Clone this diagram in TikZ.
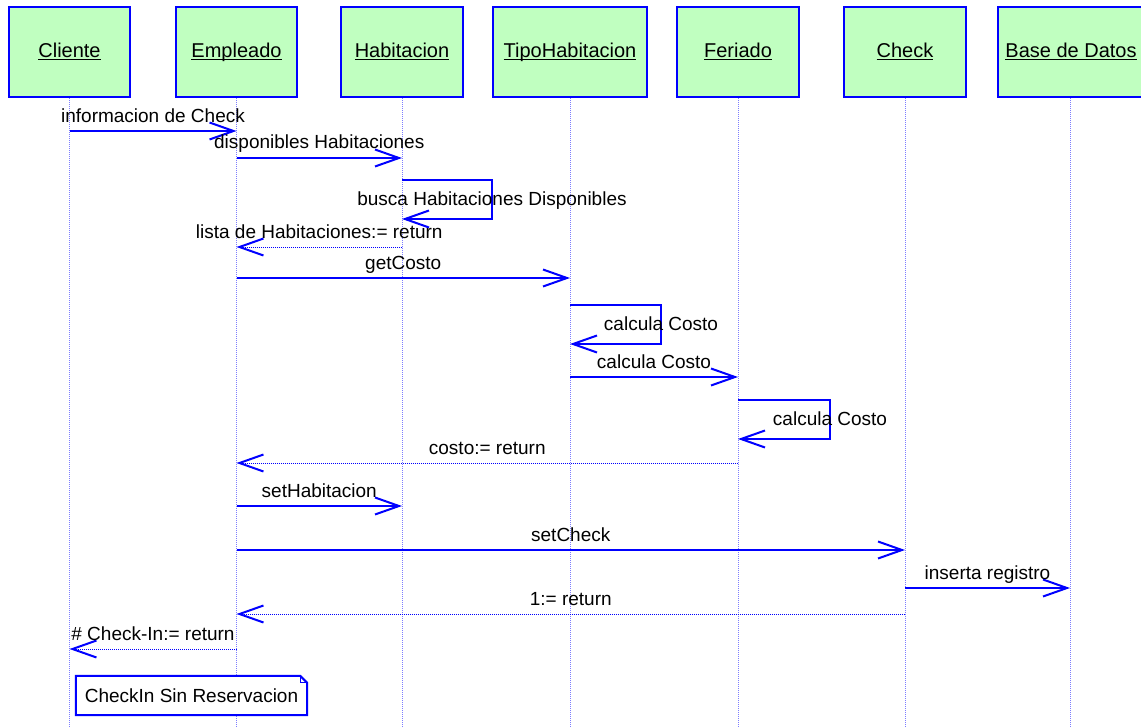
\documentclass[tikz,border=0pt]{standalone}
\usepackage{fontspec}
\setmainfont{Liberation Sans}
\usetikzlibrary{arrows.meta}
\definecolor{objfill}{RGB}{192,255,192}
\definecolor{lifeblue}{RGB}{125,125,255}
\newcommand{\objname}[1]{\underline{\smash{#1}}}
\begin{document}
\begin{tikzpicture}[x=1pt,y=-1pt,
    obj/.style={draw=blue, line width=2pt, fill=objfill, minimum height=90pt, inner sep=0pt, text height=14pt, text depth=3pt, font=\fontsize{20}{24}\selectfont},
    life/.style={lifeblue, line width=0.8pt, dash pattern=on 1pt off 1pt},
    msg/.style={blue, line width=2pt, -{Straight Barb[length=24pt,width=17pt]}},
    ret/.style={blue, line width=0.8pt, dash pattern=on 1pt off 1pt, -{Straight Barb[length=24pt,width=17pt,line width'=2pt]}},
    lbl/.style={anchor=base, yshift=9pt, inner sep=0pt, black, font=\fontsize{19}{22}\selectfont},
    selflbl/.style={anchor=base, yshift=-6pt, inner sep=0pt, black, font=\fontsize{19}{22}\selectfont}]
    \useasboundingbox (0,0) rectangle (1141,728);

    % objects
    \node[obj, minimum width=121pt] (cli) at (69.5,52) {\objname{Cliente}};
    \node[obj, minimum width=121pt] (emp) at (236.5,52) {\objname{Empleado}};
    \node[obj, minimum width=122pt] (hab) at (402,52) {\objname{Habitacion}};
    \node[obj, minimum width=154pt] (tip) at (570,52) {\objname{TipoHabitacion}};
    \node[obj, minimum width=122pt] (fer) at (738,52) {\objname{Feriado}};
    \node[obj, minimum width=122pt] (chk) at (905,52) {\objname{Check}};
    \node[obj, minimum width=146pt] (bd) at (1071,52) {\objname{Base de Datos}};

    % lifelines
    \foreach \o in {cli,emp,hab,tip,fer,chk}
        \draw[life] (\o.south) -- (\o |- 0,728);
    \draw[life] (bd.south -| 1070,0) -- (1070,728);

    % messages
    \draw[msg] (cli |- 0,131) -- node[lbl]{informacion de Check} (emp |- 0,131);
    \draw[msg] (emp |- 0,158) -- node[lbl, yshift=1pt]{disponibles Habitaciones} (hab |- 0,158);
    \draw[msg] (hab |- 0,180) -- ++(90,0) -- node[selflbl]{busca Habitaciones Disponibles} ++(0,39) -- (hab |- 0,219);
    \draw[ret] (hab |- 0,247) -- node[lbl]{lista de Habitaciones:= return} (emp |- 0,247);
    \draw[msg] (emp |- 0,278) -- node[lbl]{getCosto} (tip |- 0,278);
    \draw[msg] (tip |- 0,305) -- ++(91,0) -- node[selflbl]{calcula Costo} ++(0,39) -- (tip |- 0,344);
    \draw[msg] (tip |- 0,377) -- node[lbl]{calcula Costo} (fer |- 0,377);
    \draw[msg] (fer |- 0,400) -- ++(92,0) -- node[selflbl]{calcula Costo} ++(0,39) -- (fer |- 0,439);
    \draw[ret] (fer |- 0,463) -- node[lbl]{costo:= return} (emp |- 0,463);
    \draw[msg] (emp |- 0,506) -- node[lbl]{setHabitacion} (hab |- 0,506);
    \draw[msg] (emp |- 0,550) -- node[lbl]{setCheck} (chk |- 0,550);
    \draw[msg] (chk |- 0,588) -- node[lbl]{inserta registro} (1070,588);
    \draw[ret] (chk |- 0,614) -- node[lbl]{1:= return} (emp |- 0,614);
    \draw[ret] (emp |- 0,649) -- node[lbl]{\# Check-In:= return} (cli |- 0,649);

    % note
    \node[fill=white, minimum width=231pt, minimum height=39pt, inner sep=0pt, font=\fontsize{19}{22}\selectfont] (note) at (191.5,695.5) {CheckIn Sin Reservacion};
    \draw[blue, line width=2pt] (note.north west) -- ([xshift=-7pt]note.north east) -- ([yshift=-7pt]note.north east) -- (note.south east) -- (note.south west) -- cycle;
    \draw[blue, line width=1pt] ([xshift=-7pt]note.north east) -- ([xshift=-7pt,yshift=-7pt]note.north east) -- ([yshift=-7pt]note.north east);
\end{tikzpicture}
\end{document}
